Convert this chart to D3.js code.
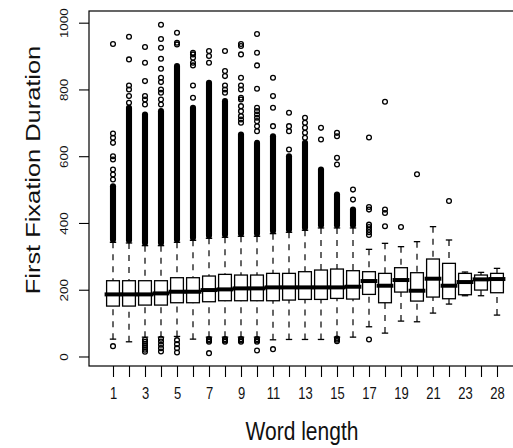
<!DOCTYPE html>
<html><head><meta charset="utf-8">
<script src="https://cdn.jsdelivr.net/npm/d3@7"></script>
<style>html,body{margin:0;padding:0;background:#fff;} svg{display:block;}</style>
</head><body>
<svg id="chart" width="513" height="448"></svg>
<script>
// ---- data ----
const categories = ["1","2","3","4","5","6","7","8","9","10","11","12","13","14","15","16","17","18","19","20","21","22","23","24","28"];
const xLabelsShown = ["1","3","5","7","9","11","13","15","17","19","21","23","28"];
const yTicks = [0, 200, 400, 600, 800, 1000];

const q1     = [151,151,154,154,161,161,164,167,167,167,167,169,171,171,174,172,186,161,193,166,178,173,185,199,191];
const median = [186,186,186,189,194,194,199,201,204,204,207,207,207,207,207,209,226,212,229,197,233,212,223,231,232];
const q3     = [227,227,227,227,236,236,241,246,244,244,249,249,254,259,262,257,254,249,266,251,292,279,249,244,249];
const whiskerLow  = [52,44,58,58,60,52,58,58,58,58,50,51,51,51,58,58,89,70,106,104,130,157,182,182,124];
const whiskerHigh = [342,340,332,332,342,348,354,357,360,360,368,372,378,385,385,385,321,339,329,344,389,349,253,252,264];

// extent of the solid band of overlapping upper outliers (null = none)
const denseLow  = [350,348,340,340,350,356,362,365,368,368,376,380,386,393,393,393,null,null,null,null,null,null,null,null,null];
const denseHigh = [510,745,725,735,870,745,820,765,665,640,660,600,640,560,485,440,null,null,null,null,null,null,null,null,null];

const outliersHigh = [
  [530,545,560,590,600,640,655,668,936],
  [760,780,800,812,890,958],
  [755,770,780,825,880,927],
  [755,770,790,800,822,835,862,892,925,951,994],
  [935,940,970],
  [775,812,872,880,895,905,910],
  [880,900,915],
  [790,800,812,840,855,915],
  [700,710,720,735,750,770,775,800,812,835,905,930,936],
  [675,690,705,715,725,735,745,802,872,910,966],
  [690,745,780,835],
  [620,675,690,730],
  [655,670,685,700,715],
  [650,685],
  [575,595,660,670],
  [470,500],
  [364,372,380,388,395,440,448,656],
  [390,430,440,763],
  [388],
  [546],
  [],
  [466],
  [],[],[]
];
const outliersLow = [
  [31],
  [],
  [14,20,26,32,38,44,50],
  [15,25,35,45,53],
  [12,25,37,49],
  [],
  [10,44,48,52],
  [44,48,52],
  [44,48,52],
  [18,44,48,52],
  [22],
  [],[],[],
  [46,50,54],
  [],
  [51],
  [],[],[],[],[],[],[],[]
];

// ---- layout ----
const svg = d3.select("#chart");
const frame = {left: 89, right: 521, top: 11, bottom: 366};
const x = d3.scalePoint().domain(categories).range([frame.left, frame.right]).padding(1.5);
const y = d3.scaleLinear().domain([-28.5, 1035]).range([frame.bottom, frame.top]);
const step = x.step();
const boxW = step * 0.8;
const r = 2.4, csw = 1.3;
const vStretch = 1.22; // text in the reference is drawn taller than wide

svg.append("rect").attr("width",513).attr("height",448).attr("fill","#fff");

const g = svg.append("g");
categories.forEach((c, i) => {
  const cx = x(c);
  const gg = g.append("g");
  gg.append("line").attr("x1",cx).attr("x2",cx).attr("y1",y(whiskerHigh[i])).attr("y2",y(q3[i]))
    .attr("stroke","#000").attr("stroke-width",1.2).attr("stroke-dasharray","6,6");
  gg.append("line").attr("x1",cx).attr("x2",cx).attr("y1",y(whiskerLow[i])).attr("y2",y(q1[i]))
    .attr("stroke","#000").attr("stroke-width",1.2).attr("stroke-dasharray","6,6");
  [whiskerHigh[i], whiskerLow[i]].forEach(v => {
    gg.append("line").attr("x1",cx-boxW/4).attr("x2",cx+boxW/4).attr("y1",y(v)).attr("y2",y(v))
      .attr("stroke","#000").attr("stroke-width",1.3);
  });
  gg.append("rect").attr("x",cx-boxW/2).attr("width",boxW)
    .attr("y",y(q3[i])).attr("height",y(q1[i])-y(q3[i]))
    .attr("fill","#fff").attr("stroke","#000").attr("stroke-width",1.3);
  if (denseLow[i] !== null) {
    gg.append("line").attr("x1",cx).attr("x2",cx).attr("y1",y(denseLow[i])).attr("y2",y(denseHigh[i]))
      .attr("stroke","#000").attr("stroke-width",2*r+csw).attr("stroke-linecap","round");
  }
  outliersHigh[i].concat(outliersLow[i]).forEach(v => {
    gg.append("circle").attr("cx",cx).attr("cy",y(v)).attr("r",r)
      .attr("fill","none").attr("stroke","#000").attr("stroke-width",csw);
  });
});
g.selectAll(".med").data(categories).join("line").attr("class","med")
  .attr("x1",d=>x(d)-boxW/2-2).attr("x2",d=>x(d)+boxW/2+2)
  .attr("y1",(d,i)=>y(median[i])).attr("y2",(d,i)=>y(median[i]))
  .attr("stroke","#000").attr("stroke-width",4);

svg.append("rect").attr("x",frame.left).attr("y",frame.top)
  .attr("width",frame.right-frame.left).attr("height",frame.bottom-frame.top)
  .attr("fill","none").attr("stroke","#000").attr("stroke-width",1.2);

const font = "'Liberation Sans', Arial, Helvetica, sans-serif";
// y axis
const yAxis = svg.append("g").attr("transform",`translate(${frame.left},0)`)
  .call(d3.axisLeft(y).tickValues(yTicks).tickSize(10).tickSizeOuter(0).tickFormat(d3.format("d")));
yAxis.select(".domain").remove();
yAxis.selectAll("line").attr("stroke","#000").attr("stroke-width",1.1);
yAxis.selectAll(".tick text").attr("transform",`translate(-21,0) scale(1,${vStretch}) rotate(-90)`)
  .attr("x",0).attr("y",0).attr("dy",0)
  .style("text-anchor","middle").style("font-family",font).style("font-size","11px").attr("fill","#111");

// x axis
const xAxis = svg.append("g").attr("transform",`translate(0,${frame.bottom})`)
  .call(d3.axisBottom(x).tickSize(11).tickSizeOuter(0).tickFormat(d => xLabelsShown.includes(d) ? d : ""));
xAxis.select(".domain").remove();
xAxis.selectAll("line").attr("stroke","#000").attr("stroke-width",1.1);
xAxis.selectAll(".tick text").attr("transform",`translate(0,33) scale(1,${vStretch})`)
  .attr("y",0).attr("dy",0)
  .style("font-family",font).style("font-size","13px").attr("fill","#111");

// titles
svg.append("text").attr("transform",`translate(${(frame.left+frame.right)/2 - 3},440) scale(1,1.27)`)
  .attr("text-anchor","middle").style("font-family",font).style("font-size","21px").attr("fill","#111")
  .text("Word length");
svg.append("text").attr("transform",`translate(40,170) scale(1,1.27) rotate(-90)`)
  .attr("text-anchor","middle").style("font-family",font).style("font-size","20px").attr("fill","#111")
  .text("First Fixation Duration");
</script>
</body></html>
